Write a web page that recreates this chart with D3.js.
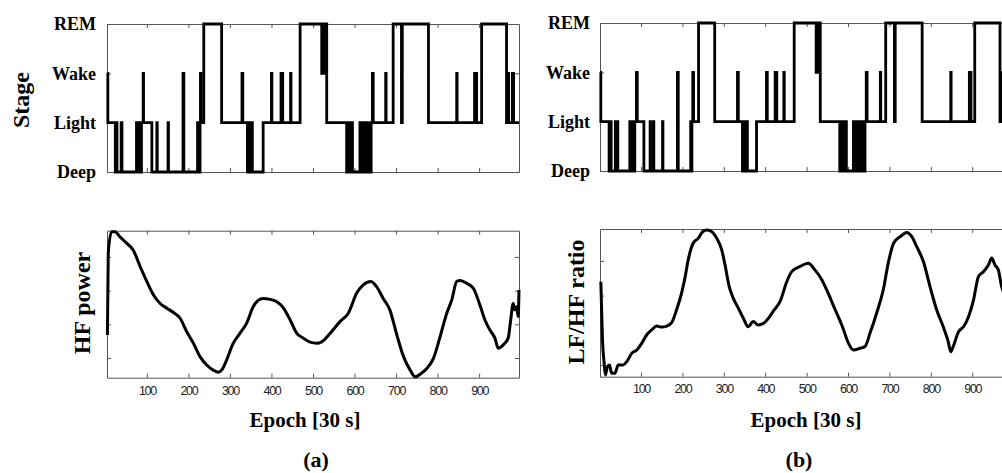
<!DOCTYPE html>
<html><head><meta charset="utf-8">
<script src="https://cdn.jsdelivr.net/npm/d3@7"></script>
<style>body{margin:0;background:#fff}svg{display:block}</style>
</head><body>
<svg id="c" width="1002" height="473"></svg>
<script>
// ---------- data ----------
const stageNames = ["Deep", "Light", "Wake", "REM"];
const xTickValues = [100, 200, 300, 400, 500, 600, 700, 800, 900];
const yTickValuesHF = [1, 2, 3, 4];
const yTickValuesLFHF = [1, 2, 3, 4];

// hypnogram (a): change points epoch -> stage index (0 Deep,1 Light,2 Wake,3 REM)
const hypA_epoch = [4,6,24,26,28,38,40,75,77,79,81,83,85,87,91,92,112,124,125,151,152,187,189,222,224,226,227,228,229,230,237,280,329,331,342,344,346,348,350,352,354,380,400,401,423,424,426,427,446,447,469,521,523,525,527,529,531,533,581,583,585,587,590,592,595,613,615,618,620,623,625,628,631,634,636,640,643,645,675,676,693,713,715,778,846,847,889,890,893,894,906,966,969,971,980,983,996];
const hypA_stage = [2,1,0,1,0,1,0,1,0,1,0,1,0,1,2,1,0,1,0,1,0,2,0,1,0,1,0,1,2,1,3,1,2,1,0,1,0,1,0,1,0,1,2,1,2,1,2,1,2,1,3,2,3,2,3,2,3,1,0,1,0,1,0,1,0,1,0,1,0,1,0,1,0,1,0,1,2,1,2,1,3,1,3,1,2,1,2,1,2,1,3,1,2,1,2,1,1];

// hypnogram (b)
const hypB_epoch = [1,3,23,25,28,38,40,42,44,73,75,77,79,81,83,85,89,91,107,122,123,130,131,152,153,188,190,220,222,223,225,227,239,278,333,335,345,347,349,351,353,355,357,379,403,405,424,425,427,428,445,446,470,523,525,527,529,533,580,582,584,587,590,593,596,613,615,618,620,623,626,629,632,635,638,641,644,646,678,679,691,712,714,779,848,849,893,894,896,897,906,967,970,972,980,983,996];
const hypB_stage = [2,1,0,1,0,1,0,1,0,1,0,1,0,1,0,1,2,1,0,1,0,1,0,1,0,2,0,1,0,1,2,1,3,1,2,1,0,1,0,1,0,1,0,1,2,1,2,1,2,1,2,1,3,2,3,2,3,1,0,1,0,1,0,1,0,1,0,1,0,1,0,1,0,1,0,1,2,1,2,1,3,1,3,1,2,1,2,1,2,1,3,1,2,1,2,1,1];

// HF power (a)
const hf_epoch = [5,7,15,23,35,51,67,84,100,116,132,148,164,180,196,212,228,244,260,272,280,292,308,324,340,356,368,380,397,413,429,445,461,477,493,509,521,541,565,585,605,621,639,653,669,685,702,718,734,746,758,774,790,806,822,834,846,854,870,886,902,914,926,938,946,958,970,976,982,986,990,994,996];
const hf_value = [1.68,4.11,4.75,4.75,4.60,4.41,4.21,3.71,3.27,2.87,2.62,2.48,2.35,2.18,1.78,1.44,1.04,0.79,0.64,0.58,0.64,0.94,1.44,1.73,2.03,2.52,2.71,2.77,2.74,2.67,2.48,2.13,1.73,1.59,1.47,1.44,1.48,1.73,2.08,2.33,2.92,3.17,3.27,3.12,2.77,2.43,1.68,1.04,0.64,0.44,0.52,0.69,0.99,1.63,2.33,2.72,3.27,3.30,3.22,3.07,2.57,2.13,1.83,1.59,1.29,1.39,1.59,2.13,2.62,2.43,2.52,2.23,3.02];

// LF/HF ratio (b)
const lfhf_epoch = [3,7,11,14,19,24,29,37,45,57,66,78,90,102,114,126,138,150,162,174,186,198,206,214,226,238,249,259,271,283,295,303,313,323,335,347,359,371,383,396,408,420,436,452,464,484,504,520,537,552,569,585,601,613,629,641,653,669,685,697,710,726,742,754,766,782,798,814,830,842,848,854,867,879,891,903,915,927,939,947,955,963,971,980];
const lfhf_value = [3.40,1.72,1.05,0.71,0.95,1.00,0.76,0.76,1.00,1.00,1.10,1.34,1.43,1.63,1.87,2.01,2.12,2.09,2.12,2.22,2.59,3.07,3.50,4.03,4.51,4.65,4.84,4.89,4.84,4.65,4.32,3.88,3.26,2.92,2.64,2.35,2.10,2.25,2.15,2.20,2.35,2.56,2.83,3.40,3.69,3.84,3.93,3.74,3.45,3.07,2.59,2.15,1.63,1.43,1.48,1.53,1.91,2.49,3.16,3.93,4.51,4.70,4.82,4.70,4.41,3.98,3.26,2.59,2.10,1.67,1.38,1.53,1.96,2.10,2.39,2.87,3.55,3.69,3.88,4.08,3.88,3.74,3.26,3.00];

// ---------- drawing ----------
const svg = d3.select("#c");
const serif = "'Liberation Serif','Times New Roman',serif";
const sans = "'Liberation Sans',Arial,sans-serif";
const axisColor = "#555";

function frame(g, x, y, xt, yt, opts) {
  const [x0, x1] = x.range();
  const [yb, yt0] = y.range();
  const bottom = g.append("g").attr("transform", `translate(0,${yb})`)
    .call(d3.axisBottom(x).tickValues(xt).tickSize(-4).tickSizeOuter(0).tickPadding(opts.xPad || 8)
      .tickFormat(opts.xLabels ? d3.format("d") : ""));
  const top = g.append("g").attr("transform", `translate(0,${yt0})`)
    .call(d3.axisTop(x).tickValues(xt).tickSize(-4).tickSizeOuter(0).tickFormat(""));
  const left = g.append("g").attr("transform", `translate(${x0},0)`)
    .call(d3.axisLeft(y).tickValues(yt).tickSize(-4).tickSizeOuter(0).tickPadding(opts.yPad || 10)
      .tickFormat(opts.yFormat || (() => "")));
  const right = g.append("g").attr("transform", `translate(${x1},0)`)
    .call(d3.axisRight(y).tickValues(yt).tickSize(-4).tickSizeOuter(0).tickFormat(""));
  [bottom, top, left, right].forEach(a => {
    a.selectAll("path.domain").attr("stroke", axisColor).attr("stroke-width", 1);
    a.selectAll(".tick line").attr("stroke", axisColor).attr("stroke-width", 1);
  });
  bottom.selectAll("text").attr("font-family", sans).attr("font-size", 12.5)
    .attr("letter-spacing", "-1.3px").attr("fill", "#222");
  left.selectAll("text").attr("font-family", serif).attr("font-size", 18)
    .attr("font-weight", "bold").attr("fill", "#000");
}

function hypno(box, epochs, stages, domain) {
  const g = svg.append("g");
  const x = d3.scaleLinear().domain(domain).range([box.x0, box.x1]);
  const y = d3.scaleLinear().domain([0, 3]).range([box.y1, box.y0]);
  frame(g, x, y, xTickValues, [0, 1, 2, 3], {
    xLabels: false, yPad: box.pad, yFormat: d => stageNames[d]
  });
  const pts = epochs.map((e, i) => [e, stages[i]]);
  g.append("path").datum(pts)
    .attr("fill", "none").attr("stroke", "#000").attr("stroke-width", 2.8)
    .attr("stroke-linejoin", "miter")
    .attr("d", d3.line().x(d => x(d[0])).y(d => y(d[1])).curve(d3.curveStepAfter));
}

function curve(box, epochs, values, domain, ydom, yticks) {
  const g = svg.append("g");
  const x = d3.scaleLinear().domain(domain).range([box.x0, box.x1]);
  const y = d3.scaleLinear().domain(ydom).range([box.y1, box.y0]);
  frame(g, x, y, xTickValues, yticks, { xLabels: true, xPad: box.xpad });
  const pts = epochs.map((e, i) => [e, values[i]]);
  g.append("path").datum(pts)
    .attr("fill", "none").attr("stroke", "#000").attr("stroke-width", 3)
    .attr("stroke-linejoin", "round")
    .attr("d", d3.line().x(d => x(d[0])).y(d => y(d[1])).curve(d3.curveMonotoneX));
}

hypno({ x0: 107, x1: 519, y0: 24, y1: 172, pad: 11 }, hypA_epoch, hypA_stage, [4, 996]);
hypno({ x0: 600, x1: 1012, y0: 23, y1: 171, pad: 10 }, hypB_epoch, hypB_stage, [1, 996]);
curve({ x0: 107, x1: 519, y0: 230.7, y1: 377.7, xpad: 8 }, hf_epoch, hf_value, [4, 996], [0.415, 4.78], yTickValuesHF);
curve({ x0: 600, x1: 1012, y0: 229, y1: 376.7, xpad: 7 }, lfhf_epoch, lfhf_value, [1, 996], [0.66, 4.92], yTickValuesLFHF);

function label(txt, x, y, size, rot) {
  svg.append("text").text(txt)
    .attr("transform", `translate(${x},${y})` + (rot ? " rotate(-90)" : ""))
    .attr("text-anchor", "middle").attr("font-family", serif)
    .attr("font-weight", "bold").attr("font-size", size).attr("fill", "#000");
}
label("Stage", 29, 100, 24, true);
label("HF power", 90, 303, 24, true);
label("LF/HF ratio", 584, 302, 24, true);
label("Epoch [30 s]", 305, 427, 21, false);
label("Epoch [30 s]", 806, 427, 21, false);
label("(a)", 316, 467, 22, false);
label("(b)", 799, 467, 22, false);
</script>
</body></html>
